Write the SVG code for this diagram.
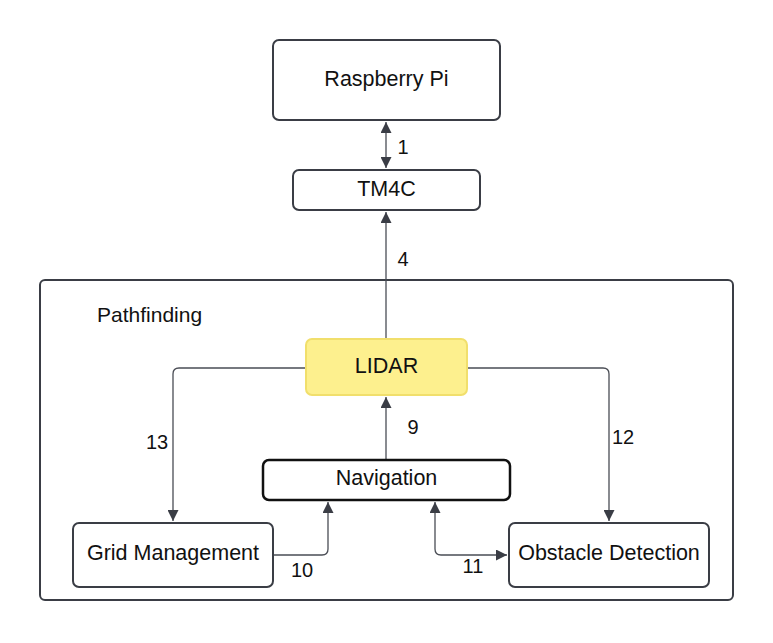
<svg xmlns="http://www.w3.org/2000/svg" width="773" height="643" viewBox="0 0 773 643">
<defs>
<style>
.box{fill:#fff;stroke:#3a3d45;stroke-width:2}
.t{font-family:"Liberation Sans",Arial,sans-serif;font-size:21.5px;fill:#111;text-anchor:middle;dominant-baseline:central}
.lbl{font-family:"Liberation Sans",Arial,sans-serif;font-size:20px;fill:#111;text-anchor:middle;dominant-baseline:central}
.c{fill:none;stroke:#4a4d55;stroke-width:1.3}
</style>
<marker id="ahL" viewBox="0 0 10 10" refX="10" refY="5" markerWidth="14" markerHeight="11" markerUnits="userSpaceOnUse" orient="auto-start-reverse">
<path d="M0,0 L10,5 L0,10 z" fill="#3a3d45"/>
</marker>
</defs>
<rect width="773" height="643" fill="#fff"/>
<g id="pathfinding">
<rect x="40" y="280" width="693" height="320" rx="5" fill="#fff" stroke="#3a3d45" stroke-width="2"/>
<text x="97" y="314" class="t" style="text-anchor:start;font-size:21px">Pathfinding</text>
</g>
<g id="connectors">
<path class="c" d="M386,122 V168" marker-start="url(#ahL)" marker-end="url(#ahL)"/>
<path class="c" d="M386,339 V212" marker-end="url(#ahL)"/>
<path class="c" d="M386,460 V397" marker-end="url(#ahL)"/>
<path class="c" d="M306,368 H179 Q173,368 173,374 V521" marker-end="url(#ahL)"/>
<path class="c" d="M467,368 H603 Q609,368 609,374 V521" marker-end="url(#ahL)"/>
<path class="c" d="M273,555 H322 Q328,555 328,549 V502" marker-end="url(#ahL)"/>
<path class="c" d="M435,502 V549 Q435,555 441,555 H507" marker-start="url(#ahL)" marker-end="url(#ahL)"/>
<text class="lbl" x="403" y="147">1</text>
<text class="lbl" x="403" y="259">4</text>
<text class="lbl" x="413" y="427">9</text>
<text class="lbl" x="157" y="442">13</text>
<text class="lbl" x="623" y="437">12</text>
<text class="lbl" x="302" y="570">10</text>
<text class="lbl" x="473" y="566">11</text>
</g>
<g id="raspberry-pi">
<rect class="box" x="273" y="40" width="227" height="80" rx="6"/>
<text class="t" x="386.5" y="79">Raspberry Pi</text>
</g>
<g id="tm4c">
<rect class="box" x="293" y="170" width="187" height="40" rx="6"/>
<text class="t" x="386.5" y="189">TM4C</text>
</g>
<g id="lidar">
<rect x="306" y="339" width="161" height="56" rx="6" fill="#fdf08e" stroke="#f1df6c" stroke-width="2"/>
<text class="t" x="386.5" y="366">LIDAR</text>
</g>
<g id="navigation">
<rect x="263" y="460" width="247" height="40" rx="6" fill="#fff" stroke="#111" stroke-width="2.5"/>
<text class="t" x="386.5" y="478">Navigation</text>
</g>
<g id="grid-management">
<rect class="box" x="73" y="523" width="200" height="64" rx="6"/>
<text class="t" x="173" y="553">Grid Management</text>
</g>
<g id="obstacle-detection">
<rect class="box" x="509" y="523" width="200" height="64" rx="6"/>
<text class="t" x="609" y="553">Obstacle Detection</text>
</g>
</svg>
